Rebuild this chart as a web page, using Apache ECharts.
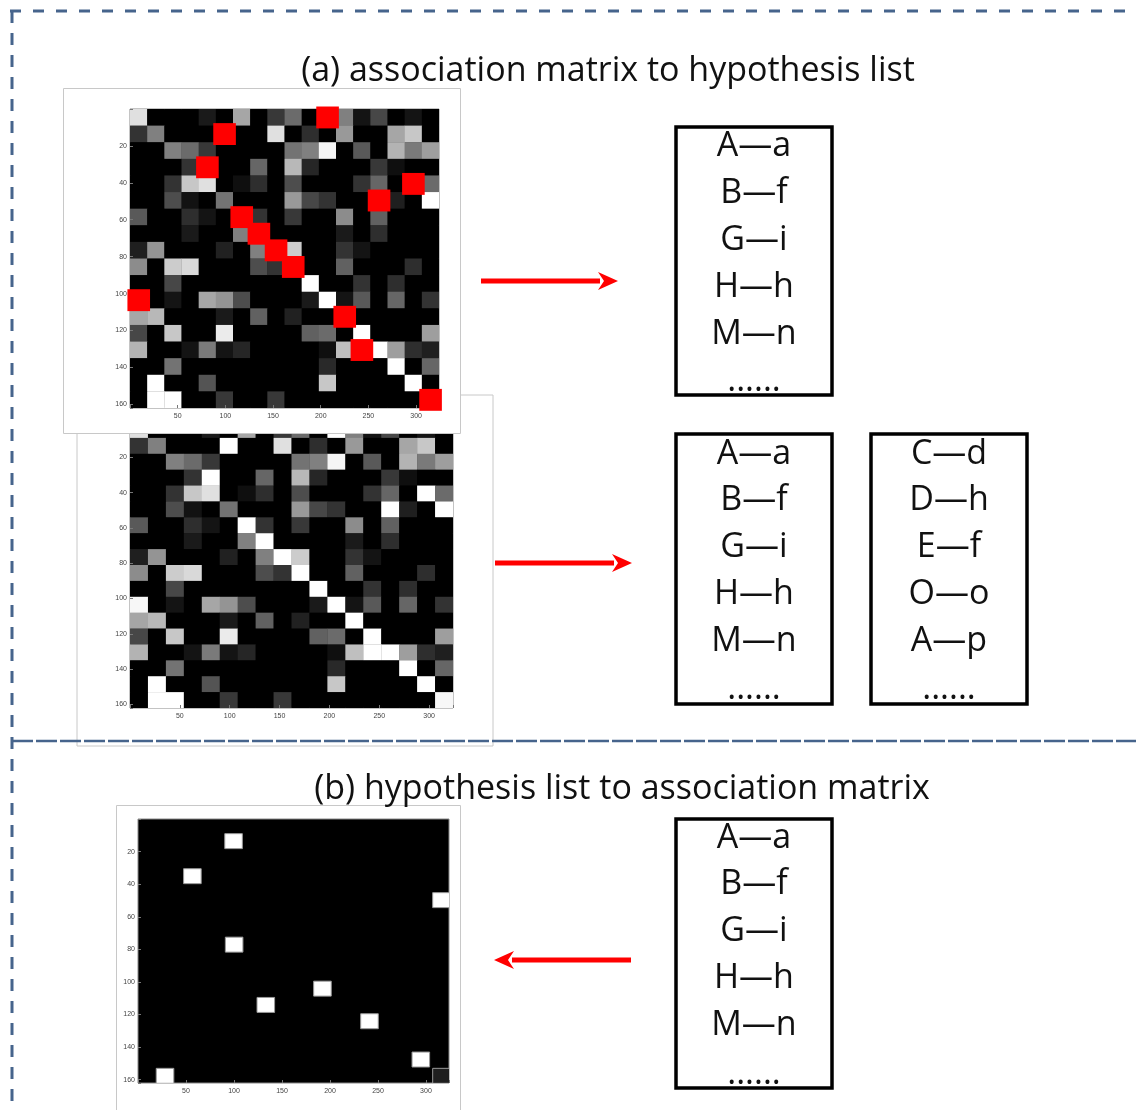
<!DOCTYPE html>
<html>
<head>
<meta charset="utf-8">
<script src="https://cdn.jsdelivr.net/npm/echarts@6/dist/echarts.min.js"></script>
<style>
  html, body { margin: 0; padding: 0; background: #fff; }
</style>
</head>
<body>
<div id="fig" style="width: 1136px; height: 1110px;"></div>
<script>
// association matrix, gray level 0 (black) .. 1 (white), 18 x 18 cells
const assocMatrix = [
  [0.88, 0, 0, 0, 0.1, 0, 0.65, 0, 0.22, 0.42, 0, 1, 0.5, 0.08, 0.28, 0, 0.08, 0],
  [0.2, 0.5, 0, 0, 0, 1, 0, 0, 0.88, 0, 0.18, 0, 0.6, 0, 0, 0.65, 0.78, 0],
  [0, 0, 0.5, 0.42, 0.22, 0, 0, 0, 0, 0.45, 0.5, 0.96, 0, 0.35, 0, 0.7, 0.48, 0.62],
  [0, 0, 0, 0.2, 1, 0, 0, 0.4, 0, 0.72, 0.15, 0, 0, 0, 0.22, 0.06, 0, 0],
  [0, 0, 0.2, 0.78, 0.88, 0, 0.06, 0.18, 0, 0.3, 0, 0, 0, 0.2, 0.4, 0, 1, 0.42],
  [0, 0, 0.3, 0.07, 0, 0.45, 0, 0, 0, 0.6, 0.28, 0.2, 0, 0, 1, 0.12, 0, 1],
  [0.35, 0, 0, 0.18, 0.08, 0, 1, 0.2, 0, 0.22, 0, 0, 0.55, 0, 0.38, 0, 0, 0],
  [0, 0, 0, 0.1, 0, 0, 0.5, 1, 0, 0, 0, 0, 0.1, 0, 0.18, 0, 0, 0],
  [0.12, 0.58, 0, 0, 0, 0.13, 0, 0.5, 1, 0.8, 0, 0, 0.2, 0.08, 0, 0, 0, 0],
  [0.55, 0, 0.8, 0.85, 0, 0, 0, 0.3, 0.2, 1, 0, 0, 0.38, 0, 0, 0, 0.18, 0],
  [0, 0, 0.28, 0, 0, 0, 0, 0, 0, 0, 1, 0, 0, 0.2, 0, 0.18, 0, 0],
  [0.97, 0, 0.08, 0, 0.65, 0.58, 0.3, 0, 0, 0, 0.1, 1, 0.08, 0.35, 0, 0.4, 0, 0.2],
  [0.65, 0.72, 0, 0, 0, 0.1, 0, 0.38, 0, 0.13, 0, 0, 1, 0, 0, 0, 0, 0],
  [0.28, 0, 0.78, 0, 0, 0.92, 0, 0, 0, 0, 0.38, 0.42, 0, 1, 0, 0, 0, 0.62],
  [0.7, 0, 0, 0.08, 0.48, 0.08, 0.15, 0, 0, 0, 0, 0.06, 0.75, 1, 1, 0.62, 0.18, 0.12],
  [0, 0, 0.45, 0, 0, 0, 0, 0, 0, 0, 0, 0.16, 0, 0, 0, 1, 0, 0.4],
  [0, 1, 0, 0, 0.33, 0, 0, 0, 0, 0, 0, 0.78, 0, 0, 0, 0, 1, 0],
  [0, 1, 1, 0, 0, 0.22, 0, 0, 0.22, 0, 0, 0, 0, 0, 0, 0, 0, 0.97]
];
// cells picked as the hypothesis (col, row) - red squares
const selectedCells = [
  [11, 0], [5, 1], [4, 3], [16, 4], [14, 5], [6, 6], [7, 7],
  [8, 8], [9, 9], [0, 11], [12, 12], [13, 14], [17, 17]
];
// matrix built back from the hypothesis list: [x center, y center, gray]
const rebuiltCells = [
  [99.4, 13.5, 1], [56.5, 35, 1], [316, 49.7, 1], [100, 77, 1], [192, 104, 1],
  [133, 114, 1], [241, 124, 1], [294.5, 147.5, 1], [28, 157.5, 1], [316, 157.5, 0.12]
];
const xTicks = [50, 100, 150, 200, 250, 300];
const yTicks = [20, 40, 60, 80, 100, 120, 140, 160];
const hypoListA = ['A\u2014a', 'B\u2014f', 'G\u2014i', 'H\u2014h', 'M\u2014n', '......'];
const hypoListB = ['C\u2014d', 'D\u2014h', 'E\u2014f', 'O\u2014o', 'A\u2014p', '......'];
const titleA = '(a) association matrix to hypothesis list';
const titleB = '(b) hypothesis list to association matrix';

const CELL_W = 18, CELL_H = 9;
const FONT = '"Open Sans", Lato, sans-serif';

let chart = echarts.init(document.getElementById('fig'));

const matrixData = [];
assocMatrix.forEach(function (row, r) {
  row.forEach(function (v, c) {
    matrixData.push([c * CELL_W + CELL_W / 2, r * CELL_H + CELL_H / 2, v]);
  });
});
const redData = selectedCells.map(function (p) {
  return [p[0] * CELL_W + CELL_W / 2, p[1] * CELL_H + CELL_H / 2];
});

function cellRender(scale, fill, stroke) {
  return function (params, api) {
    const cx = api.value(0), cy = api.value(1);
    const hw = CELL_W * scale / 2, hh = CELL_H * scale / 2;
    const a = api.coord([cx - hw, cy - hh]);
    const b = api.coord([cx + hw, cy + hh]);
    let color = fill;
    if (!color) {
      const g = Math.round(api.value(2) * 255);
      color = 'rgb(' + g + ',' + g + ',' + g + ')';
    }
    return {
      type: 'rect',
      shape: {
        x: Math.min(a[0], b[0]), y: Math.min(a[1], b[1]),
        width: Math.abs(b[0] - a[0]) + 0.3, height: Math.abs(b[1] - a[1]) + 0.3
      },
      style: stroke ? { fill: color, stroke: stroke, lineWidth: 1 } : { fill: color }
    };
  };
}

function axesFor(idx, zl) {
  const common = {
    gridIndex: idx, type: 'value', zlevel: zl, z: 10,
    axisLine: { show: false, onZero: false }, splitLine: { show: false },
    axisTick: { inside: true, length: 3, lineStyle: { color: '#777' } }
  };
  return {
    x: Object.assign({}, common, {
      position: 'bottom', min: 0, max: 324, interval: 50,
      axisLabel: {
        fontSize: 7, color: '#444', margin: 5, fontFamily: 'Liberation Sans',
        formatter: function (v) { return xTicks.indexOf(v) >= 0 ? String(v) : ''; }
      }
    }),
    y: Object.assign({}, common, {
      position: 'left', min: 0, max: 162, interval: 20, inverse: true,
      axisLabel: {
        fontSize: 7, color: '#444', margin: 3, fontFamily: 'Liberation Sans',
        formatter: function (v) { return yTicks.indexOf(v) >= 0 ? String(v) : ''; }
      }
    })
  };
}
const ax0 = axesFor(0, 1), ax1 = axesFor(1, 0), ax2 = axesFor(2, 0);

// graphic helpers
const DASH_COLOR = '#46648c';
function dashLine(x1, y1, x2, y2, dash, w) {
  return {
    type: 'line', shape: { x1: x1, y1: y1, x2: x2, y2: y2 },
    style: { stroke: DASH_COLOR, lineWidth: w, lineDash: dash }
  };
}
function arrow(x1, x2, y) {
  const dir = x2 > x1 ? 1 : -1;
  const headLen = 20, headHalf = 9;
  return [
    {
      type: 'line', shape: { x1: x1, y1: y, x2: x2 - dir * headLen + dir * 2, y2: y },
      style: { stroke: '#ff0000', lineWidth: 5 }
    },
    {
      type: 'polygon',
      shape: { points: [[x2, y], [x2 - dir * headLen, y - headHalf], [x2 - dir * (headLen - 6), y], [x2 - dir * headLen, y + headHalf]] },
      style: { fill: '#ff0000' }
    }
  ];
}
function listBox(x, y, w, h, cx, lineYs, items) {
  const els = [{
    type: 'rect', shape: { x: x, y: y, width: w, height: h },
    style: { fill: 'none', stroke: '#000', lineWidth: 3.5 }
  }];
  items.forEach(function (t, i) {
    els.push({
      type: 'text', x: cx, y: lineYs[i],
      style: { text: t, font: '34px ' + FONT, fill: '#111', align: 'center', verticalAlign: 'middle' }
    });
  });
  return els;
}
function steps(start, step) {
  const out = [];
  for (let i = 0; i < 5; i++) out.push(start + i * step);
  return out;
}

let graphics = [];
graphics.push(dashLine(10, 11, 1136, 11, [11, 12], 3));
graphics.push(dashLine(12, 11, 12, 1110, [12, 10], 3));
graphics.push(dashLine(12, 741, 1136, 741, [21, 3], 2.5));
// picture frames
graphics.push({
  type: 'rect', shape: { x: 77, y: 395, width: 416, height: 351 },
  style: { fill: '#fff', stroke: '#c8c8c8', lineWidth: 1 }, z: -5
});
graphics.push({
  type: 'rect', zlevel: 1, z: 1, shape: { x: 63.5, y: 88.5, width: 397, height: 345 },
  style: { fill: '#fff', stroke: '#c8c8c8', lineWidth: 1 }
});
graphics.push({
  type: 'rect', shape: { x: 116.5, y: 805.5, width: 344, height: 320 },
  style: { fill: '#fff', stroke: '#c8c8c8', lineWidth: 1 }, z: -5
});
graphics.push({
  type: 'text', x: 608, y: 71,
  style: { text: titleA, font: '34px ' + FONT, fill: '#111', align: 'center', verticalAlign: 'middle' }
});
graphics.push({
  type: 'text', x: 622, y: 789,
  style: { text: titleB, font: '34px ' + FONT, fill: '#111', align: 'center', verticalAlign: 'middle' }
});
graphics = graphics.concat(arrow(481, 618, 281));
graphics = graphics.concat(arrow(495, 632, 563));
graphics = graphics.concat(arrow(631, 494, 960));

let l1 = steps(146, 47); l1.push(381);
let l2 = steps(454, 46.8); l2.push(689);
let l4 = steps(838, 46.8); l4.push(1074);
graphics = graphics.concat(listBox(676, 127, 156, 268, 754, l1, hypoListA));
graphics = graphics.concat(listBox(676, 434, 156, 270, 754, l2, hypoListA));
graphics = graphics.concat(listBox(871, 434, 156, 270, 949, l2, hypoListB));
graphics = graphics.concat(listBox(676, 819, 156, 269, 754, l4, hypoListA));

chart.setOption({
  backgroundColor: '#fff',
  animation: false,
  grid: [
    { left: 130, top: 109, width: 309, height: 299, show: true, backgroundColor: '#000', borderColor: '#888', borderWidth: 1, zlevel: 1, z: 5 },
    { left: 130, top: 422, width: 323, height: 286, show: true, backgroundColor: '#000', borderColor: '#888', borderWidth: 1 },
    { left: 138, top: 819, width: 311, height: 264, show: true, backgroundColor: '#000', borderColor: '#888', borderWidth: 1 }
  ],
  xAxis: [ax0.x, ax1.x, ax2.x],
  yAxis: [ax0.y, ax1.y, ax2.y],
  series: [
    {
      type: 'custom', xAxisIndex: 0, yAxisIndex: 0, zlevel: 1, z: 10, clip: true,
      renderItem: cellRender(1), data: matrixData, silent: true
    },
    {
      type: 'custom', xAxisIndex: 0, yAxisIndex: 0, zlevel: 1, z: 11,
      renderItem: cellRender(1.3, '#ff0000'), data: redData, silent: true
    },
    {
      type: 'custom', xAxisIndex: 1, yAxisIndex: 1, clip: true,
      renderItem: cellRender(1), data: matrixData, silent: true
    },
    {
      type: 'custom', xAxisIndex: 2, yAxisIndex: 2, clip: true,
      renderItem: cellRender(1, null, '#999'), data: rebuiltCells, silent: true
    }
  ],
  graphic: { elements: graphics }
});
</script>
</body>
</html>
